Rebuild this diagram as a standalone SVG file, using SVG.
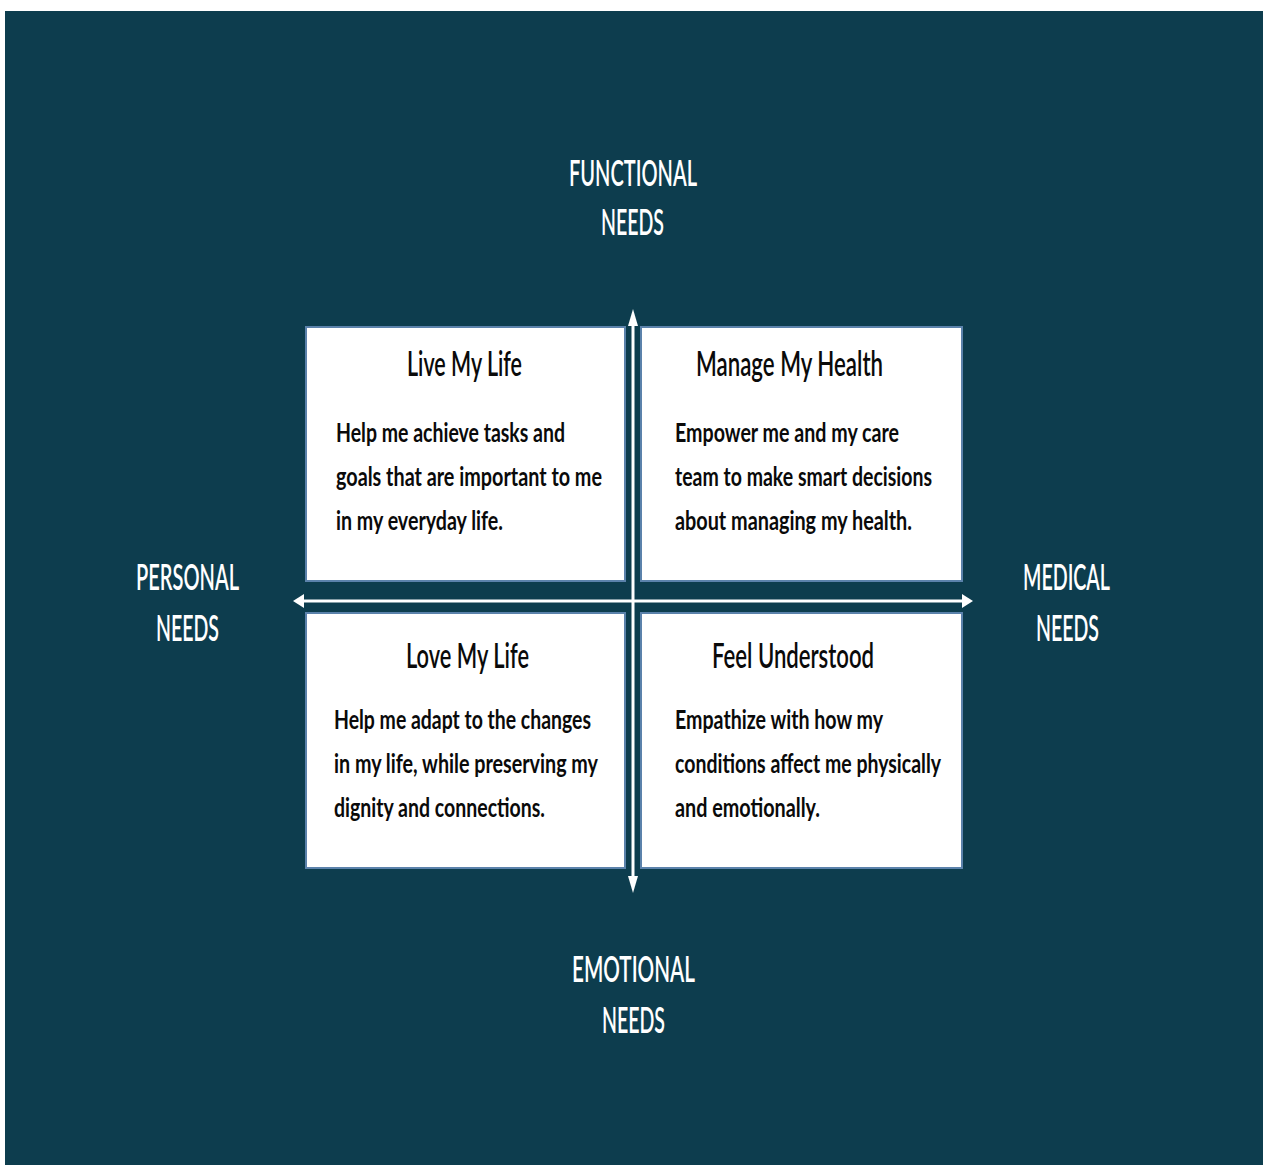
<svg xmlns="http://www.w3.org/2000/svg" width="1263" height="1165" viewBox="0 0 1263 1165">
  <style>
    .bg { fill: #0d3d4e; }
    .card { fill: #ffffff; stroke: #5b82ab; stroke-width: 2; }
    .axis { stroke: #ffffff; stroke-width: 3; fill: none; }
    .head { fill: #ffffff; }
    .label { font-family: Lato, "Liberation Sans", sans-serif; font-size: 36px; font-weight: 600; fill: #ffffff; }
    .title { font-family: Lato, "Liberation Sans", sans-serif; font-size: 35px; font-weight: 600; fill: #0a0a0a; }
    .body { font-family: Lato, "Liberation Sans", sans-serif; font-size: 26px; font-weight: bold; fill: #0a0a0a; }
  </style>

  <!-- page -->
  <rect x="0" y="0" width="1263" height="1165" fill="#ffffff"/>
  <rect class="bg" x="5" y="11" width="1258" height="1154"/>

  <!-- axis arrows -->
  <g id="connectors">
    <line class="axis" x1="633" y1="318" x2="633" y2="878"/>
    <polygon class="head" points="633,309 628,326 638,326"/>
    <polygon class="head" points="633,893 628,876 638,876"/>
    <line class="axis" x1="302" y1="601" x2="964" y2="601"/>
    <polygon class="head" points="293,601 304,594 304,608"/>
    <polygon class="head" points="973,601 962,594 962,608"/>
  </g>

  <!-- axis labels -->
  <g id="label-functional">
    <text class="label" x="569" y="186" textLength="128" lengthAdjust="spacingAndGlyphs">FUNCTIONAL</text>
    <text class="label" x="601" y="235" textLength="63" lengthAdjust="spacingAndGlyphs">NEEDS</text>
  </g>
  <g id="label-personal">
    <text class="label" x="136" y="590" textLength="103" lengthAdjust="spacingAndGlyphs">PERSONAL</text>
    <text class="label" x="156" y="641" textLength="63" lengthAdjust="spacingAndGlyphs">NEEDS</text>
  </g>
  <g id="label-medical">
    <text class="label" x="1023" y="590" textLength="87" lengthAdjust="spacingAndGlyphs">MEDICAL</text>
    <text class="label" x="1036" y="641" textLength="63" lengthAdjust="spacingAndGlyphs">NEEDS</text>
  </g>
  <g id="label-emotional">
    <text class="label" x="572" y="982" textLength="123" lengthAdjust="spacingAndGlyphs">EMOTIONAL</text>
    <text class="label" x="602" y="1033" textLength="63" lengthAdjust="spacingAndGlyphs">NEEDS</text>
  </g>

  <!-- quadrant cards -->
  <g id="live-my-life">
    <rect class="card" x="306" y="327" width="319" height="254"/>
    <text class="title" x="407" y="376" textLength="115" lengthAdjust="spacingAndGlyphs">Live My Life</text>
    <text class="body" x="336" y="442" textLength="229" lengthAdjust="spacingAndGlyphs">Help me achieve tasks and</text>
    <text class="body" x="336" y="486" textLength="266" lengthAdjust="spacingAndGlyphs">goals that are important to me</text>
    <text class="body" x="336" y="530" textLength="167" lengthAdjust="spacingAndGlyphs">in my everyday life.</text>
  </g>

  <g id="manage-my-health">
    <rect class="card" x="641" y="327" width="321" height="254"/>
    <text class="title" x="696" y="376" textLength="187" lengthAdjust="spacingAndGlyphs">Manage My Health</text>
    <text class="body" x="675" y="442" textLength="224" lengthAdjust="spacingAndGlyphs">Empower me and my care</text>
    <text class="body" x="675" y="486" textLength="257" lengthAdjust="spacingAndGlyphs">team to make smart decisions</text>
    <text class="body" x="675" y="530" textLength="237" lengthAdjust="spacingAndGlyphs">about managing my health.</text>
  </g>

  <g id="love-my-life">
    <rect class="card" x="306" y="613" width="319" height="255"/>
    <text class="title" x="406" y="668" textLength="123" lengthAdjust="spacingAndGlyphs">Love My Life</text>
    <text class="body" x="334" y="729" textLength="257" lengthAdjust="spacingAndGlyphs">Help me adapt to the changes</text>
    <text class="body" x="334" y="773" textLength="264" lengthAdjust="spacingAndGlyphs">in my life, while preserving my</text>
    <text class="body" x="334" y="817" textLength="211" lengthAdjust="spacingAndGlyphs">dignity and connections.</text>
  </g>

  <g id="feel-understood">
    <rect class="card" x="641" y="613" width="321" height="255"/>
    <text class="title" x="712" y="668" textLength="162" lengthAdjust="spacingAndGlyphs">Feel Understood</text>
    <text class="body" x="675" y="729" textLength="208" lengthAdjust="spacingAndGlyphs">Empathize with how my</text>
    <text class="body" x="675" y="773" textLength="266" lengthAdjust="spacingAndGlyphs">conditions affect me physically</text>
    <text class="body" x="675" y="817" textLength="145" lengthAdjust="spacingAndGlyphs">and emotionally.</text>
  </g>
</svg>
